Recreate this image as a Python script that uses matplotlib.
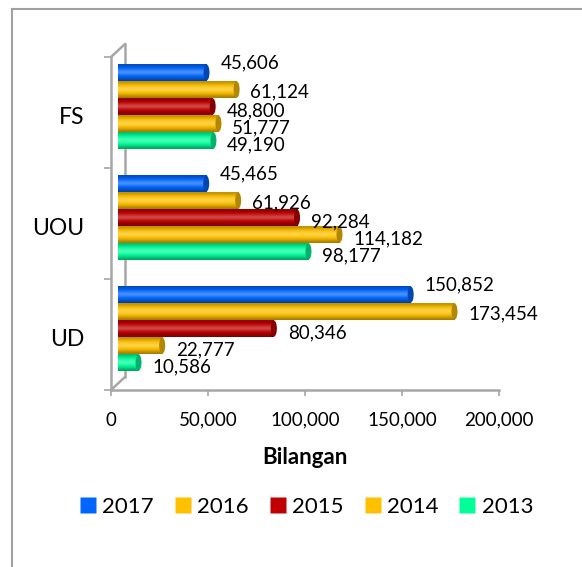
import matplotlib
matplotlib.use("Agg")

import numpy as np
import matplotlib.pyplot as plt
import matplotlib.transforms as mtransforms
from matplotlib.patches import Ellipse
from matplotlib.lines import Line2D
from matplotlib.colors import to_rgb

plt.rcParams['font.family'] = ['Lato', 'DejaVu Sans']

# Data
categories = ["UD", "UOU", "FS"]
years = ["2017", "2016", "2015", "2014", "2013"]
colors = ["#0066FF", "#FFC000", "#C00000", "#FFC000", "#00FF99"]
values = {
    "2017": [150852, 45465, 45606],
    "2016": [173454, 61926, 61124],
    "2015": [80346, 92284, 48800],
    "2014": [22777, 114182, 51777],
    "2013": [10586, 98177, 49190],
}
# vertical nudge of value labels (pixels, + is up)
label_dy = [10, -2, -4, -4, -4]

xticks = [0, 50000, 100000, 150000, 200000]

W, H = 582, 567
fig = plt.figure(figsize=(W/100, H/100), dpi=100)

# front plane of the 3D box
x0, x1, ytop, ybot = 111, 499, 57, 390
ax = fig.add_axes([x0/W, 1 - ybot/H, (x1 - x0)/W, (ybot - ytop)/H])
ax.set_xlim(0, 200000)
ax.set_ylim(-0.5, 2.5)

axis_col = "#a6a6a6"
for s in ["top", "right"]:
    ax.spines[s].set_visible(False)
for s in ["left", "bottom"]:
    ax.spines[s].set_color(axis_col)
    ax.spines[s].set_linewidth(1.8)

ax.set_xticks(xticks)
ax.set_xticklabels([f"{t:,}" for t in xticks])
ax.tick_params(axis="x", length=4.5, width=1.2, color=axis_col, pad=11, labelsize=13.5)
ax.set_yticks([-0.5, 0.5, 1.5, 2.5])
ax.set_yticklabels([])
ax.tick_params(axis="y", length=5, width=1.2, color=axis_col)
ax.set_yticks(range(len(categories)), minor=True)
ax.set_yticklabels(categories, minor=True)
ax.tick_params(axis="y", which="minor", length=0, pad=19, labelsize=16.5)
for lab in ax.get_yticklabels(minor=True):
    lab.set_transform(lab.get_transform() + mtransforms.ScaledTranslation(0, -0.03, fig.dpi_scale_trans))

ax.set_xlabel("Bilangan", fontsize=16, fontweight="bold", labelpad=13)

# back wall of the 3D box
dx, dy = 14, 13
back = ax.transData + mtransforms.ScaledTranslation(dx/100, dy/100, fig.dpi_scale_trans)
ax.plot([0, 0], [-0.5, 2.5], color=axis_col, lw=1.8, transform=back, clip_on=False)
for yy in (-0.5, 2.5):
    ax.annotate("", xy=(0, yy), xytext=(dx*0.72, dy*0.72), textcoords="offset points",
                arrowprops=dict(arrowstyle="-", color=axis_col, lw=1.8, shrinkA=0, shrinkB=0))

# bars sit a little behind the front plane
bar_tr = ax.transData + mtransforms.ScaledTranslation(7/100, 6/100, fig.dpi_scale_trans)
pitch = 0.153
bh = 0.146
ypos = np.arange(len(categories))
cap_w = 6 / (x1 - x0) * 200000


def shade(c, f):
    c = np.array(to_rgb(c))
    if f >= 0:
        return c + (1 - c) * f
    return c * (1 + f)


for i, (yr, col) in enumerate(zip(years, colors)):
    off = (2 - i) * pitch
    vals = values[yr]
    bars = ax.barh(ypos + off, vals, height=bh, color=col, transform=bar_tr, zorder=3)
    grad = np.array([shade(col, f) for f in [-0.35, -0.1, 0.05, 0.35, 0.15, -0.05, -0.25]])
    for b, v, yc in zip(bars, vals, ypos + off):
        im = ax.imshow(grad[:, None, :], extent=(0, v, yc - bh/2, yc + bh/2), aspect="auto",
                       interpolation="bicubic", origin="lower", transform=bar_tr, zorder=3.5)
        im.set_clip_path(b)
        cap = Ellipse((v, yc), cap_w, bh, facecolor=shade(col, -0.3), edgecolor="none",
                      transform=bar_tr, zorder=3.6)
        ax.add_patch(cap)
        ax.annotate(f"{v:,}", xy=(v, yc), xytext=(15, label_dy[i]*0.72 + 4.3),
                    textcoords="offset points", va="center", ha="left",
                    fontsize=13.5, zorder=5)

ax.set_xlim(0, 200000)
ax.set_ylim(-0.5, 2.5)

# legend
handles = [Line2D([], [], marker="s", linestyle="none", markersize=11, markerfacecolor=c,
                  markeredgecolor="none") for c in colors]
fig.legend(handles, years, loc="center", bbox_to_anchor=(0.527, 1 - 507/H), ncol=5,
           frameon=False, fontsize=16, handlelength=0.7, handletextpad=0.3,
           columnspacing=0.95, borderpad=0)

# chart frame (cropped at right and bottom)
fig.add_artist(Line2D([12/W, 1], [1 - 9/H, 1 - 9/H], color="#a0a0a0", lw=1.5))
fig.add_artist(Line2D([12/W, 12/W], [0, 1 - 9/H], color="#a0a0a0", lw=1.5))

fig.savefig("out.png", dpi=100)
